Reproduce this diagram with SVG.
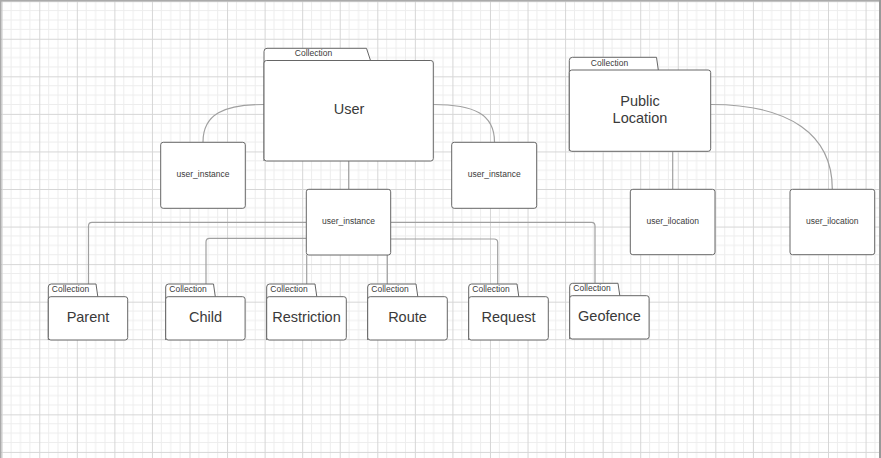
<svg xmlns="http://www.w3.org/2000/svg" width="881" height="458" viewBox="0 0 881 458">
<style>
.box{fill:#fff;stroke:#666;stroke-width:1}
.conn{fill:none;stroke:#a0a0a0;stroke-width:1.2}
.t{font-family:"Liberation Sans",Arial,sans-serif;fill:#3a3a3a;text-anchor:middle}
.col{font-size:8.5px}
.big{font-size:14.5px}
.inst{font-size:8.5px}
</style>
<defs>
<pattern id="grid" patternUnits="userSpaceOnUse" x="1.7" y="1.2" width="37.56" height="37.56">
<path d="M9.39 0V37.56M18.78 0V37.56M28.17 0V37.56M0 9.39H37.56M0 18.78H37.56M0 28.17H37.56" stroke="#ededed" stroke-width="1" fill="none"/>
<path d="M0.5 0V37.56M0 0.5H37.56" stroke="#d6d6d6" stroke-width="1" fill="none"/>
</pattern>
</defs>
<rect width="881" height="458" fill="#fff"/>
<rect width="881" height="458" fill="url(#grid)"/>
<path d="M0.75 0V458M0 0.75H881" stroke="#aaa" stroke-width="1.5"/>
<path d="M880 0V458" stroke="#999" stroke-width="2"/>

<g id="connectors">
<path class="conn" d="M264 104.5C224 104.5 203 114 203 142"/>
<path class="conn" d="M433 104.5C474 104.5 494.5 114 494.5 142"/>
<path class="conn" d="M348.7 161V189"/>
<path class="conn" d="M672.7 151.5V189"/>
<path class="conn" d="M711 104.5C790 104.5 832.3 135 832.3 189"/>
<path class="conn" d="M306 222.3H92Q88.5 222.3 88.5 226V284"/>
<path class="conn" d="M306 238.3H209.5Q206 238.3 206 242V284"/>
<path class="conn" d="M306.7 255V284"/>
<path class="conn" d="M387.3 255V284"/>
<path class="conn" d="M391 239H494Q497.7 239 497.7 242.5V284"/>
<path class="conn" d="M391 222.3H591.5Q595 222.3 595 226V283"/>
</g>

<g id="user">
<path class="box" d="M264 161V51.5Q264 48.3 267 48.3H366.5L370.5 60.5"/>
<rect class="box" x="264" y="60.5" width="169.3" height="100.5" rx="2.5"/>
<text class="t col" x="313.5" y="56">Collection</text>
<text class="t big" x="349" y="114">User</text>
</g>

<g id="user_instance_left">
<rect class="box" x="160.7" y="142.3" width="84.6" height="66" rx="2.5"/>
<text class="t inst" x="203" y="177">user_instance</text>
</g>
<g id="user_instance_right">
<rect class="box" x="451.7" y="142.3" width="85" height="66" rx="2.5"/>
<text class="t inst" x="494.2" y="177">user_instance</text>
</g>
<g id="user_instance_center">
<rect class="box" x="306.3" y="189.3" width="84.4" height="65.7" rx="2.5"/>
<text class="t inst" x="348.5" y="224">user_instance</text>
</g>

<g id="public_location">
<path class="box" d="M569.3 151V60.5Q569.3 57.3 572.5 57.3H656.5L658.3 70"/>
<rect class="box" x="569.3" y="70" width="141.4" height="81.3" rx="2.5"/>
<text class="t col" x="609.5" y="66">Collection</text>
<text class="t big" x="640" y="105.5">Public</text>
<text class="t big" x="640" y="123">Location</text>
</g>

<g id="user_ilocation_1">
<rect class="box" x="630.3" y="189.3" width="84.7" height="65.4" rx="2.5"/>
<text class="t inst" x="672.7" y="224">user_ilocation</text>
</g>
<g id="user_ilocation_2">
<rect class="box" x="790" y="189.3" width="84.7" height="65.4" rx="2.5"/>
<text class="t inst" x="832.3" y="224">user_ilocation</text>
</g>

<g id="parent">
<path class="box" d="M48.3 340V287Q48.3 284 51.3 284H96L97.8 296.7"/>
<rect class="box" x="48.3" y="296.7" width="79.4" height="43.3" rx="2.5"/>
<text class="t col" x="70.5" y="292">Collection</text>
<text class="t big" x="88" y="322">Parent</text>
</g>
<g id="child">
<path class="box" d="M165.7 340V287Q165.7 284 168.7 284H213.5L215.3 296.7"/>
<rect class="box" x="165.7" y="296.7" width="79.4" height="43.3" rx="2.5"/>
<text class="t col" x="188" y="292">Collection</text>
<text class="t big" x="205.5" y="322">Child</text>
</g>
<g id="restriction">
<path class="box" d="M266.7 340V287Q266.7 284 269.7 284H315L316.8 296.7"/>
<rect class="box" x="266.7" y="296.7" width="79.6" height="43.3" rx="2.5"/>
<text class="t col" x="289" y="292">Collection</text>
<text class="t big" x="306.5" y="322">Restriction</text>
</g>
<g id="route">
<path class="box" d="M367.7 340V287Q367.7 284 370.7 284H416L417.8 296.7"/>
<rect class="box" x="367.7" y="296.7" width="79.6" height="43.3" rx="2.5"/>
<text class="t col" x="390" y="292">Collection</text>
<text class="t big" x="407.5" y="322">Route</text>
</g>
<g id="request">
<path class="box" d="M468.7 340V287Q468.7 284 471.7 284H517L518.8 296.7"/>
<rect class="box" x="468.7" y="296.7" width="79.6" height="43.3" rx="2.5"/>
<text class="t col" x="491" y="292">Collection</text>
<text class="t big" x="508.5" y="322">Request</text>
</g>
<g id="geofence">
<path class="box" d="M569.7 339V286.3Q569.7 283.3 572.7 283.3H618L619.8 295.7"/>
<rect class="box" x="569.7" y="295.7" width="79.4" height="43.3" rx="2.5"/>
<text class="t col" x="592" y="291">Collection</text>
<text class="t big" x="609.5" y="321">Geofence</text>
</g>
</svg>
